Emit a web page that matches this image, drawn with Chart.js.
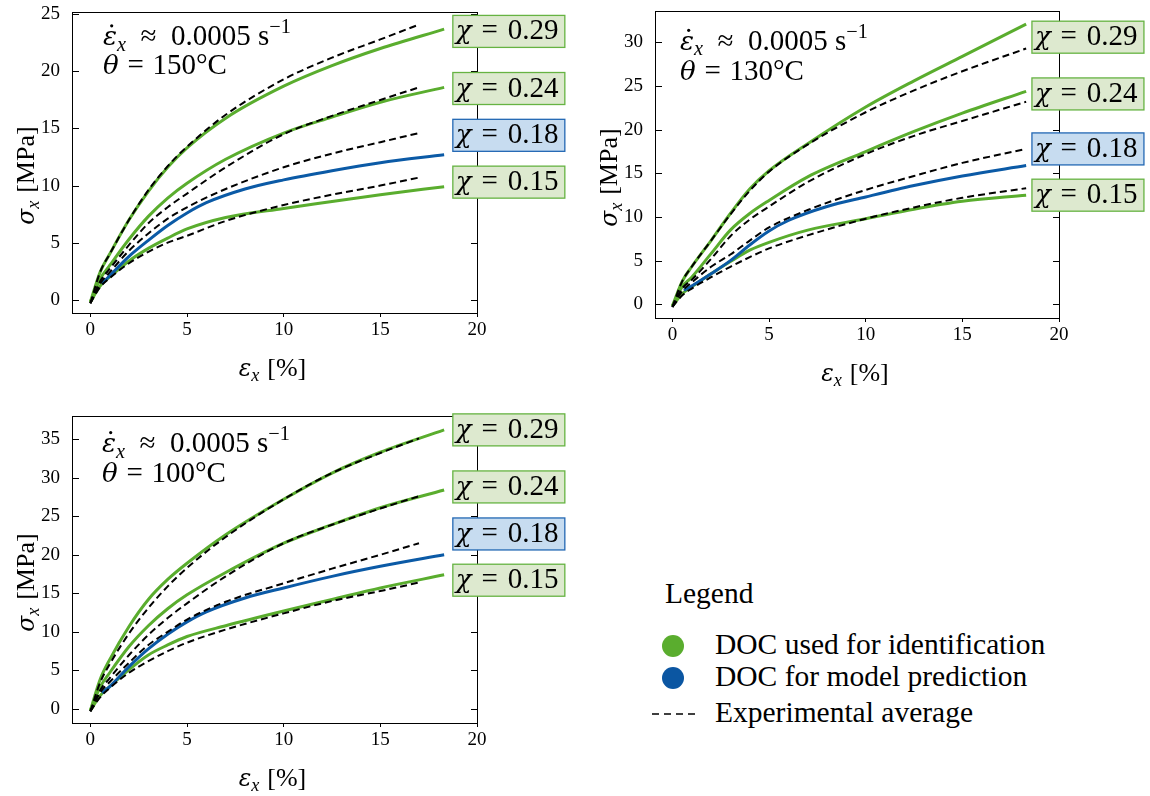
<!DOCTYPE html>
<html><head><meta charset="utf-8">
<script src="https://cdn.jsdelivr.net/npm/chart.js@4.4.1/dist/chart.umd.min.js"></script>
<style>
html,body{margin:0;padding:0;background:#fff;width:1150px;height:796px;overflow:hidden;position:relative;font-family:'Liberation Serif',serif;}
canvas{position:absolute;}
.lg{position:absolute;font-size:29.5px;line-height:29.5px;white-space:nowrap;color:#000;}
.dot{position:absolute;width:22px;height:22px;border-radius:50%;}
</style></head><body>
<canvas id="c1" width="580" height="395" style="left:0;top:0"></canvas>
<canvas id="c2" width="570" height="395" style="left:580px;top:0"></canvas>
<canvas id="c3" width="580" height="396" style="left:0;top:400px"></canvas>
<div class="lg" style="left:665px;top:579px">Legend</div>
<div class="dot" style="left:662px;top:635px;background:#5aad2e"></div>
<div class="dot" style="left:662px;top:667px;background:#0b56a2"></div>
<svg style="position:absolute;left:650px;top:708px" width="50" height="12"><line x1="2" y1="6" x2="46" y2="6" stroke="#000" stroke-width="1.5" stroke-dasharray="7,5"/></svg>
<div class="lg" style="left:715px;top:630px">DOC used for identification</div>
<div class="lg" style="left:715px;top:662px">DOC for model prediction</div>
<div class="lg" style="left:715px;top:698px">Experimental average</div>
<script>
// ---------- data ----------
const xTicks = [0, 5, 10, 15, 20];
const yTicks150 = [0, 5, 10, 15, 20, 25];
const yTicks130 = [0, 5, 10, 15, 20, 25, 30];
const yTicks100 = [0, 5, 10, 15, 20, 25, 30, 35];
const chiValues = ['0.29', '0.24', '0.18', '0.15'];
const chiKind = ['fit', 'fit', 'pred', 'fit'];

const strainModel = [0, 0.5, 1, 2, 3, 4, 5, 7, 10, 12.5, 15, 18.3];
const strainBlue  = [0.6, 1, 2, 3, 4, 5, 6, 8, 10, 12.5, 15, 18.3];
const strainExp17 = [0, 0.5, 1, 2, 3, 4, 5, 7, 10, 12.5, 15, 17];
const strainExp18 = [0, 0.5, 1, 2, 3, 4, 5, 7, 10, 12.5, 15, 18.3];

// 150 °C
const sim150_029 = [-0.2, 2.4, 4.0, 7.0, 9.5, 11.6, 13.3, 15.9, 18.7, 20.5, 22.0, 23.7];
const sim150_024 = [-0.2, 1.8, 3.0, 5.3, 7.3, 8.9, 10.2, 12.3, 14.6, 16.0, 17.3, 18.6];
const sim150_018 = [1.4, 2.1, 3.8, 5.2, 6.5, 7.6, 8.5, 9.7, 10.5, 11.3, 12.0, 12.7];
const sim150_015 = [-0.2, 1.2, 2.0, 3.4, 4.5, 5.4, 6.2, 7.2, 8.0, 8.6, 9.2, 9.9];
const exp150_029 = [-0.3, 2.4, 4.0, 7.0, 9.6, 11.7, 13.4, 16.2, 19.3, 21.2, 22.8, 24.1];
const exp150_024 = [-0.3, 1.6, 2.7, 4.8, 6.7, 8.1, 9.3, 11.6, 14.5, 16.1, 17.5, 18.6];
const exp150_018 = [-0.3, 1.4, 2.4, 4.3, 5.8, 7.1, 8.1, 9.7, 11.6, 12.8, 13.8, 14.6];
const exp150_015 = [-0.3, 1.1, 1.9, 3.2, 4.2, 5.0, 5.6, 6.9, 8.3, 9.2, 10.0, 10.7];
const labelY150 = [23.5, 18.5, 14.4, 10.3];

// 130 °C
const sim130_029 = [-0.2, 2.6, 4.3, 7.3, 10.4, 13.2, 15.3, 18.4, 22.6, 25.6, 28.4, 32.1];
const sim130_024 = [-0.2, 2.0, 3.1, 5.8, 8.5, 10.4, 11.9, 14.6, 17.5, 19.8, 21.9, 24.4];
const sim130_018 = [1.6, 2.1, 3.5, 5.0, 6.8, 8.4, 9.6, 11.2, 12.3, 13.6, 14.7, 15.9];
const sim130_015 = [-0.2, 1.2, 2.0, 3.5, 4.9, 6.2, 7.1, 8.5, 9.8, 10.9, 11.8, 12.5];
const exp130_029 = [-0.3, 2.6, 4.3, 7.3, 10.3, 13.0, 15.2, 18.3, 22.0, 24.5, 26.7, 29.3];
const exp130_024 = [-0.3, 1.8, 2.8, 5.2, 7.8, 9.7, 11.2, 14.0, 17.2, 19.3, 21.0, 23.2];
const exp130_018 = [-0.3, 1.5, 2.5, 4.3, 5.7, 7.3, 8.8, 10.8, 13.1, 14.7, 16.2, 17.8];
const exp130_015 = [-0.3, 1.0, 1.8, 3.1, 4.3, 5.4, 6.4, 7.9, 9.8, 11.1, 12.2, 13.3];
const labelY130 = [30.6, 24.1, 17.8, 12.5];

// 100 °C
const sim100_029 = [-0.2, 3.8, 6.4, 10.7, 14.2, 16.8, 18.9, 22.6, 27.2, 30.6, 33.3, 36.2];
const sim100_024 = [-0.2, 2.8, 4.7, 8.1, 10.8, 13.0, 14.8, 17.7, 21.5, 23.9, 26.1, 28.4];
const sim100_018 = [2.1, 2.9, 5.5, 7.8, 9.7, 11.3, 12.6, 14.4, 15.7, 17.2, 18.5, 20.0];
const sim100_015 = [-0.2, 1.7, 2.9, 5.1, 7.0, 8.3, 9.4, 10.8, 12.7, 14.2, 15.7, 17.4];
const exp100_029 = [-0.3, 3.4, 5.8, 9.8, 13.1, 15.9, 18.3, 22.3, 27.2, 30.6, 33.2, 35.1];
const exp100_024 = [-0.3, 2.4, 4.0, 7.0, 9.6, 11.8, 13.7, 17.2, 21.5, 23.9, 26.0, 27.6];
const exp100_018 = [-0.3, 2.1, 3.5, 6.0, 8.3, 10.0, 11.6, 13.9, 16.3, 18.2, 20.0, 21.5];
const exp100_015 = [-0.3, 1.5, 2.7, 4.7, 6.2, 7.5, 8.6, 10.3, 12.4, 14.0, 15.3, 16.4];
const labelY100 = [36.2, 28.8, 22.7, 16.7];

// ---------- styling ----------
const FONT = "'Liberation Serif', serif";
const GREEK = "'DejaVu Serif', serif";
const GREEN = '#5aad2e', BLUE = '#0b5aa6';
const BOX = { fit: { fill: '#dde9cf', edge: '#66b342' }, pred: { fill: '#c7dcf0', edge: '#2368b4' } };

function drawRuns(ctx, x, y, parts, size, draw = true) {
  let cx = x;
  for (const p of parts) {
    const s = Math.round(size * (p.sc || 1) * (p.g ? 0.9 : 1) * 10) / 10;
    ctx.font = (p.it ? 'italic ' : 'normal ') + s + 'px ' + (p.g ? GREEK : FONT);
    const w = ctx.measureText(p.t).width;
    if (draw) {
      ctx.fillText(p.t, cx, y + (p.dy || 0) * size);
      if (p.dot) { ctx.beginPath(); ctx.arc(cx + w * 0.62, y - size * 0.66, size * 0.055, 0, 2 * Math.PI); ctx.fill(); }
    }
    cx += w + (p.gap || 0) * size;
  }
  return cx - x;
}

const decor = {
  id: 'decor',
  beforeDatasetsDraw(chart) {
    const { ctx, chartArea: a, scales: { y } } = chart;
    ctx.save();
    ctx.strokeStyle = '#000'; ctx.lineWidth = 1;
    ctx.strokeRect(a.left + 0.5, a.top + 0.5, a.right - a.left, a.bottom - a.top);
    ctx.beginPath();
    y.ticks.forEach(t => {
      const py = Math.round(y.getPixelForValue(t.value)) + 0.5;
      ctx.moveTo(a.left, py); ctx.lineTo(a.left + 7, py);
      ctx.moveTo(a.right + 1, py); ctx.lineTo(a.right - 6, py);
    });
    ctx.stroke();
    ctx.restore();
  },
  afterDraw(chart, args, o) {
    const { ctx, chartArea: a, scales: { x, y } } = chart;
    ctx.save();
    ctx.fillStyle = '#000'; ctx.textBaseline = 'alphabetic'; ctx.textAlign = 'left';
    const tx = a.left + o.text[0];
    drawRuns(ctx, tx, a.top + o.text[1], [
      { t: 'ε', it: true, g: true, dot: true }, { t: 'x', it: true, sc: 0.7, dy: 0.2, gap: 0.5 },
      { t: '≈', gap: 0.5 }, { t: '0.0005', gap: 0.25 }, { t: 's' }, { t: '−1', sc: 0.7, dy: -0.4 }
    ], 29);
    drawRuns(ctx, tx, a.top + o.text[2], [
      { t: 'θ', it: true, g: true, gap: 0.3 }, { t: '=', gap: 0.3 }, { t: o.temp + '°C' }
    ], 29);
    const yParts = [{ t: 'σ', it: true, g: true }, { t: 'x', it: true, sc: 0.7, dy: 0.2, gap: 0.3 }, { t: '[MPa]' }];
    const xParts = [{ t: 'ε', it: true, g: true }, { t: 'x', it: true, sc: 0.7, dy: 0.2, gap: 0.3 }, { t: '[%]' }];
    const wy = drawRuns(ctx, 0, 0, yParts, 26, false);
    ctx.save();
    ctx.translate(a.left - 38, (a.top + a.bottom) / 2 + 13);
    ctx.rotate(-Math.PI / 2);
    drawRuns(ctx, -wy / 2, 0, yParts, 26);
    ctx.restore();
    const wx = drawRuns(ctx, 0, 0, xParts, 26, false);
    drawRuns(ctx, (a.left + a.right) / 2 - 2 - wx / 2, a.bottom + 63, xParts, 26);
    chiValues.forEach((v, i) => {
      const st = BOX[chiKind[i]];
      const px = x.getPixelForValue(o.labelX);
      const cy = y.getPixelForValue(o.labelY[i]);
      const w = 112, h = 32;
      ctx.fillStyle = st.fill; ctx.fillRect(px, cy - h / 2, w, h);
      ctx.strokeStyle = st.edge; ctx.lineWidth = 1.3; ctx.strokeRect(px, cy - h / 2, w, h);
      ctx.fillStyle = '#000';
      drawRuns(ctx, px + 3, cy + 8, [{ t: 'χ', it: true, g: true, gap: 0.34 }, { t: '=', gap: 0.34 }, { t: v }], 29);
    });
    ctx.restore();
  }
};

function ds(xs, ys, color, dashed) {
  return {
    data: xs.map((v, i) => ({ x: v, y: ys[i] })),
    borderColor: color, borderWidth: dashed ? 2 : 3, borderDash: dashed ? [7, 4] : [],
    pointRadius: 0, fill: false, cubicInterpolationMode: 'monotone', order: dashed ? 0 : 1
  };
}

function make(id, cfg) {
  const cv = document.getElementById(id);
  const W = cv.width, H = cv.height, A = cfg.area, XH = 40;
  new Chart(cv, {
    type: 'line',
    data: { datasets: cfg.datasets },
    plugins: [decor],
    options: {
      responsive: false, animation: false, events: [],
      layout: { padding: { left: 0, top: A.top, right: W - A.right, bottom: H - A.bottom - XH } },
      plugins: { legend: { display: false }, tooltip: { enabled: false },
        decor: { temp: cfg.temp, labelX: cfg.labelX, labelY: cfg.labelY, text: cfg.text } },
      scales: {
        x: {
          type: 'linear', min: cfg.xMin, max: 20,
          afterBuildTicks: s => { s.ticks = xTicks.map(v => ({ value: v })); },
          ticks: { font: { family: FONT, size: 19 }, color: '#000', padding: 2, maxRotation: 0, autoSkip: false },
          grid: { display: true, drawOnChartArea: false, drawTicks: true, tickLength: 4, color: '#000', lineWidth: 1 },
          border: { display: false },
          afterFit: s => { s.height = XH; s.paddingLeft = 0; s.paddingRight = 0; }
        },
        y: {
          type: 'linear', min: cfg.yMin, max: cfg.yMax,
          afterBuildTicks: s => { s.ticks = cfg.yTicks.map(v => ({ value: v })); },
          ticks: { font: { family: FONT, size: 19 }, color: '#000', padding: 4 },
          grid: { display: false }, border: { display: false },
          afterFit: s => { s.width = A.left; s.paddingTop = 0; s.paddingBottom = 0; }
        }
      }
    }
  });
}

make('c1', {
  area: { left: 72, top: 12, right: 477, bottom: 313 }, xMin: -0.95, yMin: -1.16, yMax: 25.2,
  yTicks: yTicks150, temp: '150', labelX: 18.75, labelY: labelY150, text: [31, 33, 62],
  datasets: [
    ds(strainExp17, exp150_029, '#000', true), ds(strainExp17, exp150_024, '#000', true),
    ds(strainExp17, exp150_018, '#000', true), ds(strainExp17, exp150_015, '#000', true),
    ds(strainModel, sim150_029, GREEN, false), ds(strainModel, sim150_024, GREEN, false),
    ds(strainBlue, sim150_018, BLUE, false), ds(strainModel, sim150_015, GREEN, false)
  ]
});
make('c2', {
  area: { left: 75, top: 11, right: 479, bottom: 318 }, xMin: -0.9, yMin: -1.57, yMax: 33.6,
  yTicks: yTicks130, temp: '130', labelX: 18.6, labelY: labelY130, text: [25, 38.5, 68.5],
  datasets: [
    ds(strainExp18, exp130_029, '#000', true), ds(strainExp18, exp130_024, '#000', true),
    ds(strainExp18, exp130_018, '#000', true), ds(strainExp18, exp130_015, '#000', true),
    ds(strainModel, sim130_029, GREEN, false), ds(strainModel, sim130_024, GREEN, false),
    ds(strainBlue, sim130_018, BLUE, false), ds(strainModel, sim130_015, GREEN, false)
  ]
});
make('c3', {
  area: { left: 72, top: 16, right: 477, bottom: 323 }, xMin: -0.95, yMin: -1.82, yMax: 38.0,
  yTicks: yTicks100, temp: '100', labelX: 18.75, labelY: labelY100, text: [30, 35.7, 65.7],
  datasets: [
    ds(strainExp17, exp100_029, '#000', true), ds(strainExp17, exp100_024, '#000', true),
    ds(strainExp17, exp100_018, '#000', true), ds(strainExp17, exp100_015, '#000', true),
    ds(strainModel, sim100_029, GREEN, false), ds(strainModel, sim100_024, GREEN, false),
    ds(strainBlue, sim100_018, BLUE, false), ds(strainModel, sim100_015, GREEN, false)
  ]
});
</script>
</body></html>
